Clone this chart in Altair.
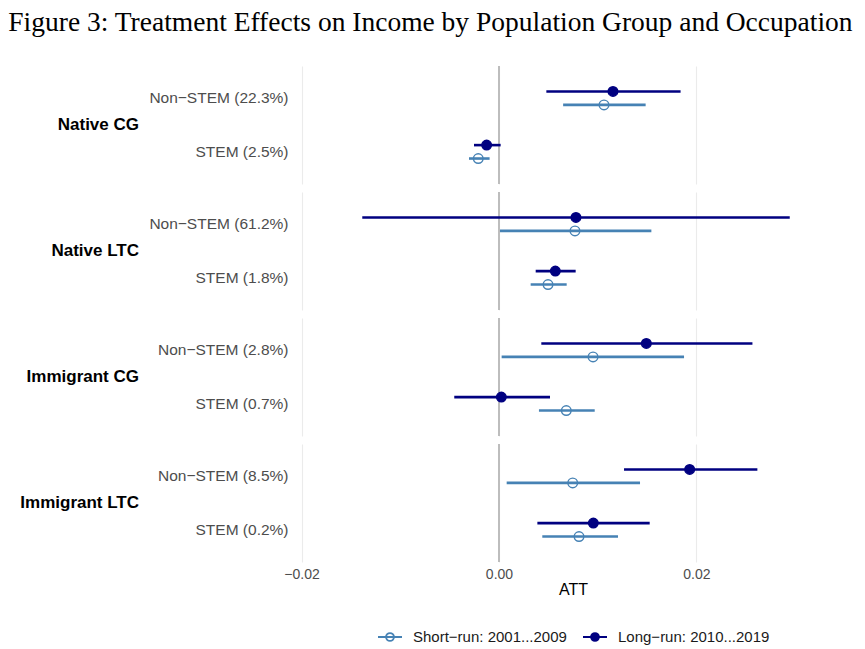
import altair as alt
import pandas as pd

# ---- data ----
groups = ["Native CG", "Native LTC", "Immigrant CG", "Immigrant LTC"]
occupations = [
    "Non−STEM (22.3%)", "STEM (2.5%)",
    "Non−STEM (61.2%)", "STEM (1.8%)",
    "Non−STEM (2.8%)", "STEM (0.7%)",
    "Non−STEM (8.5%)", "STEM (0.2%)",
]
row_groups = ["Native CG", "Native CG", "Native LTC", "Native LTC",
              "Immigrant CG", "Immigrant CG", "Immigrant LTC", "Immigrant LTC"]

short_label = "Short−run: 2001...2009"
long_label = "Long−run: 2010...2019"
periods = [short_label, long_label]

long_est = [0.01155, -0.00125, 0.0078, 0.00571, 0.01493, 0.00024, 0.01932, 0.00956]
long_lo = [0.0048, -0.00253, -0.01385, 0.00372, 0.00429, -0.00453, 0.01267, 0.00389]
long_hi = [0.0184, 0.00017, 0.02946, 0.00777, 0.02568, 0.00517, 0.02618, 0.01527]

short_est = [0.01064, -0.0021, 0.0077, 0.00497, 0.00953, 0.00682, 0.00747, 0.00811]
short_lo = [0.0065, -0.00304, 0.0001, 0.00321, 0.00027, 0.00405, 0.00078, 0.00439]
short_hi = [0.01486, -0.00095, 0.01544, 0.00686, 0.01875, 0.0097, 0.01429, 0.01206]

x_ticks = [-0.02, 0.0, 0.02]

rows = []
for i in range(len(occupations)):
    rows.append(dict(group=row_groups[i], occupation=occupations[i], period=long_label,
                     est=long_est[i], lo=long_lo[i], hi=long_hi[i]))
    rows.append(dict(group=row_groups[i], occupation=occupations[i], period=short_label,
                     est=short_est[i], lo=short_lo[i], hi=short_hi[i]))
df = pd.DataFrame(rows)

FONT = "Liberation Sans"
NAVY = "#000080"
STEEL = "#4682B4"
SYMBOL = "M-1,0L1,0M0.33,0A0.33,0.33,0,1,1,-0.33,0A0.33,0.33,0,1,1,0.33,0"

x_scale = alt.Scale(domain=[-0.02097, 0.03597], nice=False, zero=False)
x_axis = alt.Axis(values=x_ticks, format=".2f", title="ATT", titleFontSize=16,
                  titleColor="#000000", titleFontWeight="normal", titleFont=FONT,
                  labelFont=FONT, labelFontSize=14, labelColor="#4D4D4D",
                  ticks=False, domain=False, grid=True, gridColor="#EBEBEB",
                  gridWidth=1.1, labelPadding=4, titlePadding=0)
y_enc = alt.Y("occupation:N",
              scale=alt.Scale(type="band", paddingInner=0.5, paddingOuter=0.35),
              axis=alt.Axis(title=None, ticks=False, domain=False, grid=False,
                            labelFont=FONT, labelFontSize=15.5, labelColor="#4D4D4D",
                            labelPadding=4))
yoff_enc = alt.YOffset("period:N", scale=alt.Scale(domain=[long_label, short_label]))

legend_def = alt.Legend(title=None, orient="none", legendX=85, legendY=558,
                        direction="horizontal", symbolType=SYMBOL, symbolSize=576,
                        symbolStrokeWidth=1.8, labelFont=FONT, labelFontSize=15,
                        labelColor="#1A1A1A", labelOffset=10, columnPadding=12)

color_scale = alt.Scale(domain=periods, range=[STEEL, NAVY])
fill_scale = alt.Scale(domain=periods, range=["transparent", NAVY])

zero_line = alt.Chart().mark_rule(color="#BDBDBD", strokeWidth=1.6).encode(
    x=alt.datum(0, scale=x_scale, axis=x_axis)
)

ci = alt.Chart().mark_rule(strokeWidth=2.6).encode(
    x=alt.X("lo:Q", scale=x_scale, axis=x_axis),
    x2="hi:Q",
    y=y_enc,
    yOffset=yoff_enc,
    color=alt.Color("period:N", scale=color_scale, legend=legend_def),
)

pts = alt.Chart().mark_point(filled=False, opacity=1, size=92, strokeWidth=1.4).encode(
    x=alt.X("est:Q", scale=x_scale, axis=x_axis),
    y=y_enc,
    yOffset=yoff_enc,
    color=alt.Color("period:N", scale=color_scale, legend=legend_def),
    fill=alt.Fill("period:N", scale=fill_scale, legend=legend_def),
)

layered = alt.layer(zero_line, ci, pts, data=df).properties(width=562, height=118)

chart = layered.facet(
    row=alt.Row("group:N", sort=groups,
                header=alt.Header(title=None, labelOrient="left", labelAngle=0,
                                  labelAlign="left", labelFont=FONT,
                                  labelFontWeight="bold", labelFontSize=17,
                                  labelColor="#000000", labelPadding=9)),
    spacing=6,
).resolve_scale(y="independent", yOffset="independent").properties(
    title=alt.TitleParams("Figure 3: Treatment Effects on Income by Population Group and Occupation",
                          font="Liberation Serif", fontSize=27.5, fontWeight="normal",
                          color="#000000", anchor="start", frame="bounds",
                          dx=-12, offset=29),
    padding={"left": 0, "top": 0, "right": 0, "bottom": 0},
).configure_view(stroke=None)

chart.save("out.html", embed_options={"renderer": "svg", "actions": False})
